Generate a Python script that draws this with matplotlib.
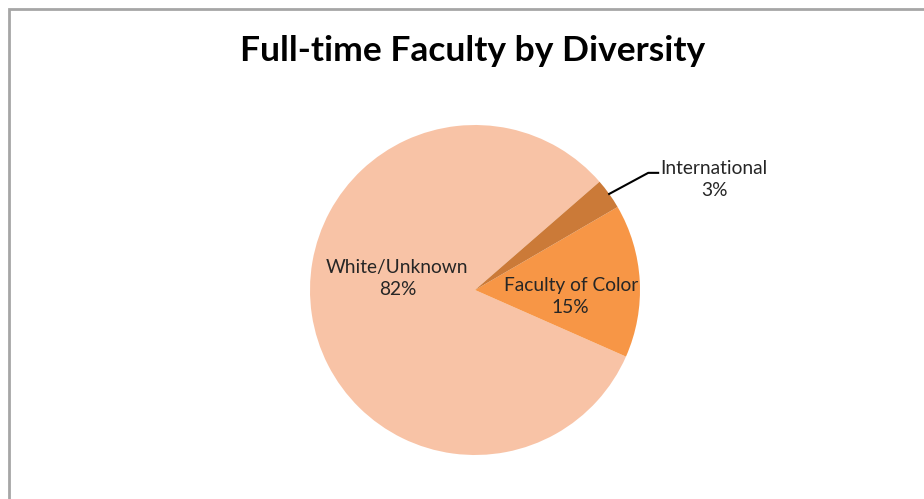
import numpy as np
import matplotlib
matplotlib.use("Agg")
import matplotlib.pyplot as plt

# Chart data
categories = ["White/Unknown", "Faculty of Color", "International"]
shares = [82, 15, 3]
colors = ["#F8C3A6", "#F79646", "#CB7A38"]

plt.rcParams['font.family'] = ['Lato', 'DejaVu Sans']

W, H = 924, 499
fig = plt.figure(figsize=(W / 100, H / 100), dpi=100)

# Grey chart frame (runs off the right and bottom edges)
frame = plt.Rectangle((8.5 / W, -0.1), 1.2, 1 - 8.5 / H + 0.1, transform=fig.transFigure,
                      fill=False, edgecolor="#a6a6a6", linewidth=2)
fig.patches.append(frame)

fig.text(473 / W, 1 - 51 / H, "Full-time Faculty by Diversity", ha="center", va="center",
         fontsize=25.5, fontweight="bold", color="black")

# Pie axes: center (475, 290), radius 165 px
cx, cy, r = 475, 290, 165
ax = fig.add_axes([(cx - r) / W, (H - cy - r) / H, 2 * r / W, 2 * r / H])
wedges, _ = ax.pie(shares, colors=colors, startangle=41, counterclock=True,
                   wedgeprops=dict(linewidth=0))
ax.set_xlim(-1, 1)
ax.set_ylim(-1, 1)
ax.set_aspect("equal")
ax.axis("off")

txt = dict(ha="center", va="center", fontsize=13.8, color="#262626", linespacing=1.3)
ax.text(-0.47, 0.07, f"{categories[0]}\n{shares[0]}%", **txt)
ax.text(0.58, -0.04, f"{categories[1]}\n{shares[1]}%", **txt)

# International label with leader line from the wedge edge
w = wedges[2]
mid = np.deg2rad((w.theta1 + w.theta2) / 2)
ax.text(1.45, 0.67, f"{categories[2]}\n{shares[2]}%", **txt, clip_on=False)
ax.plot([np.cos(mid), 1.05, 1.11], [np.sin(mid), 0.71, 0.71], color="black",
        linewidth=1.5, clip_on=False)

fig.savefig("out.png", dpi=100)
